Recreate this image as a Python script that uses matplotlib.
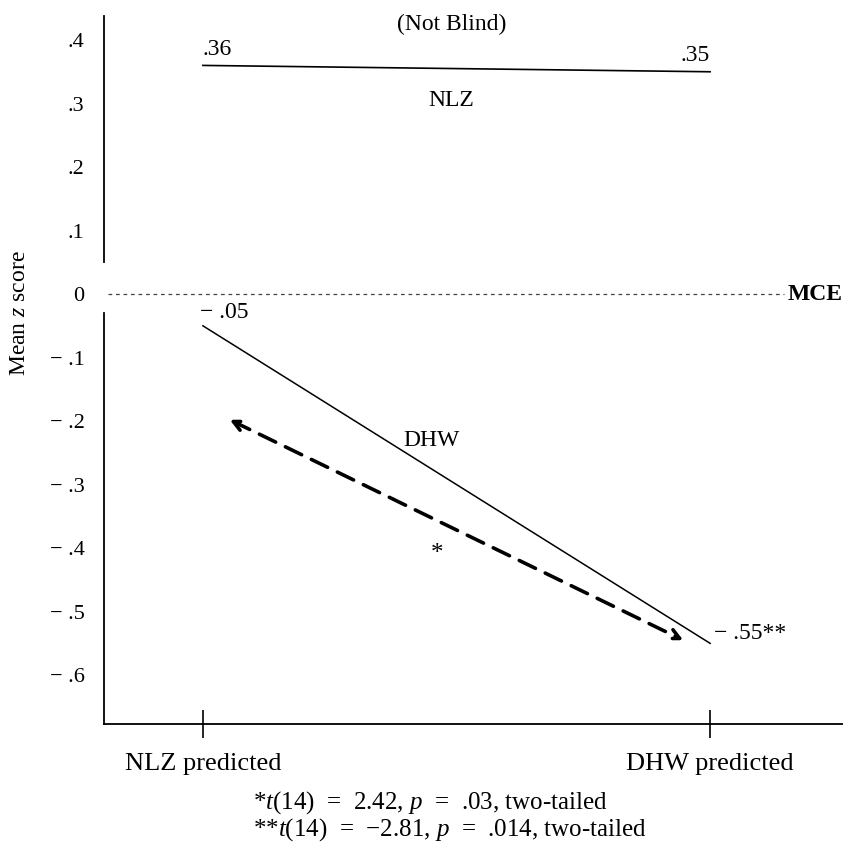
import matplotlib
matplotlib.use("Agg")
import matplotlib.pyplot as plt

plt.rcParams["font.family"] = ["Liberation Serif", "DejaVu Serif"]
plt.rcParams["mathtext.fontset"] = "custom"
plt.rcParams["mathtext.rm"] = "Liberation Serif"
plt.rcParams["mathtext.it"] = "Liberation Serif:italic"

categories = ["NLZ predicted", "DHW predicted"]
nlz_means = [0.36, 0.35]
dhw_means = [-0.05, -0.55]
nlz_labels = [".36", ".35"]
dhw_labels = ["\u2212 .05", "\u2212 .55**"]
yticks = [0.4, 0.3, 0.2, 0.1, 0.0, -0.1, -0.2, -0.3, -0.4, -0.5, -0.6]
ytick_labels = [".4", ".3", ".2", ".1", "0", "\u2212 .1", "\u2212 .2", "\u2212 .3",
                "\u2212 .4", "\u2212 .5", "\u2212 .6"]
# difference arrow between the two conditions (annotation)
arrow_start = (0.053, -0.198)
arrow_end = (0.947, -0.545)
footnotes = [r"*$t$(14)  =  2.42, $p$  =  .03, two-tailed",
             "**$t$(14)  =  \u22122.81, $p$  =  .014, two-tailed"]

fig = plt.figure(figsize=(8.43, 8.49), dpi=100)
ax = fig.add_axes([104 / 843, 1 - 724 / 849, 1 - 104 / 843, 724 / 849])
x = [0, 1]

ax.plot(x, nlz_means, color="black", lw=1.2)
ax.plot(x, dhw_means, color="black", lw=1.1)
ax.axhline(0, xmin=0.005, xmax=0.92, color="#444444", lw=0.9, ls=(0, (3, 3)))

ax.set_xlim(-0.195, 1.262)
ax.set_ylim(-0.677, 0.463)

# left axis drawn with a break around zero
ax.spines[["left", "top", "right"]].set_visible(False)
ax.plot([0, 0], [0.05, 0.438], color="black", lw=1.3,
        transform=ax.get_yaxis_transform(), clip_on=False)
ax.plot([0, 0], [-0.03, -0.677], color="black", lw=1.3,
        transform=ax.get_yaxis_transform(), clip_on=False)
ax.spines["bottom"].set_linewidth(1.3)

ax.set_yticks(yticks)
ax.set_yticklabels(ytick_labels, fontsize=16)
ax.tick_params(axis="y", length=0, pad=14)
ax.set_xticks(x)
ax.set_xticklabels(categories, fontsize=19)
ax.tick_params(axis="x", direction="inout", length=20, width=1.2, pad=11)
ax.set_ylabel("Mean $z$ score", fontsize=17)
ax.yaxis.set_label_coords(-0.1, 0.567)

for xi, yi, lab in zip(x, nlz_means, nlz_labels):
    ax.annotate(lab, (xi, yi), xytext=(0, 4), textcoords="offset points",
                ha="left" if xi == 0 else "right", va="bottom", fontsize=17)
ax.annotate(dhw_labels[0], (0, dhw_means[0]), xytext=(-2, 2), textcoords="offset points",
            ha="left", va="bottom", fontsize=17)
ax.annotate(dhw_labels[1], (1, dhw_means[1]), xytext=(3, 7), textcoords="offset points",
            ha="left", va="center", fontsize=17)

ax.text(0.49, 0.425, "(Not Blind)", ha="center", va="center", fontsize=17)
ax.text(0.49, 0.305, "NLZ", ha="center", va="center", fontsize=17)
ax.text(0.45, -0.23, "DHW", ha="center", va="center", fontsize=17)
ax.text(0.462, -0.41, "*", ha="center", va="center", fontsize=18)
ax.text(1.262, 0.0, "MCE", ha="right", va="center", fontsize=17, fontweight="bold")

ax.annotate("", xy=arrow_end, xytext=arrow_start,
            arrowprops=dict(arrowstyle="<->,head_length=0.7,head_width=0.35",
                            color="black", lw=2.6, ls=(0, (5, 3)),
                            shrinkA=0, shrinkB=0))

fig.text(253 / 843, 1 - 803 / 849, footnotes[0], ha="left", va="center", fontsize=18)
fig.text(253 / 843, 1 - 830 / 849, footnotes[1], ha="left", va="center", fontsize=18)

fig.savefig("out.png", dpi=100)
